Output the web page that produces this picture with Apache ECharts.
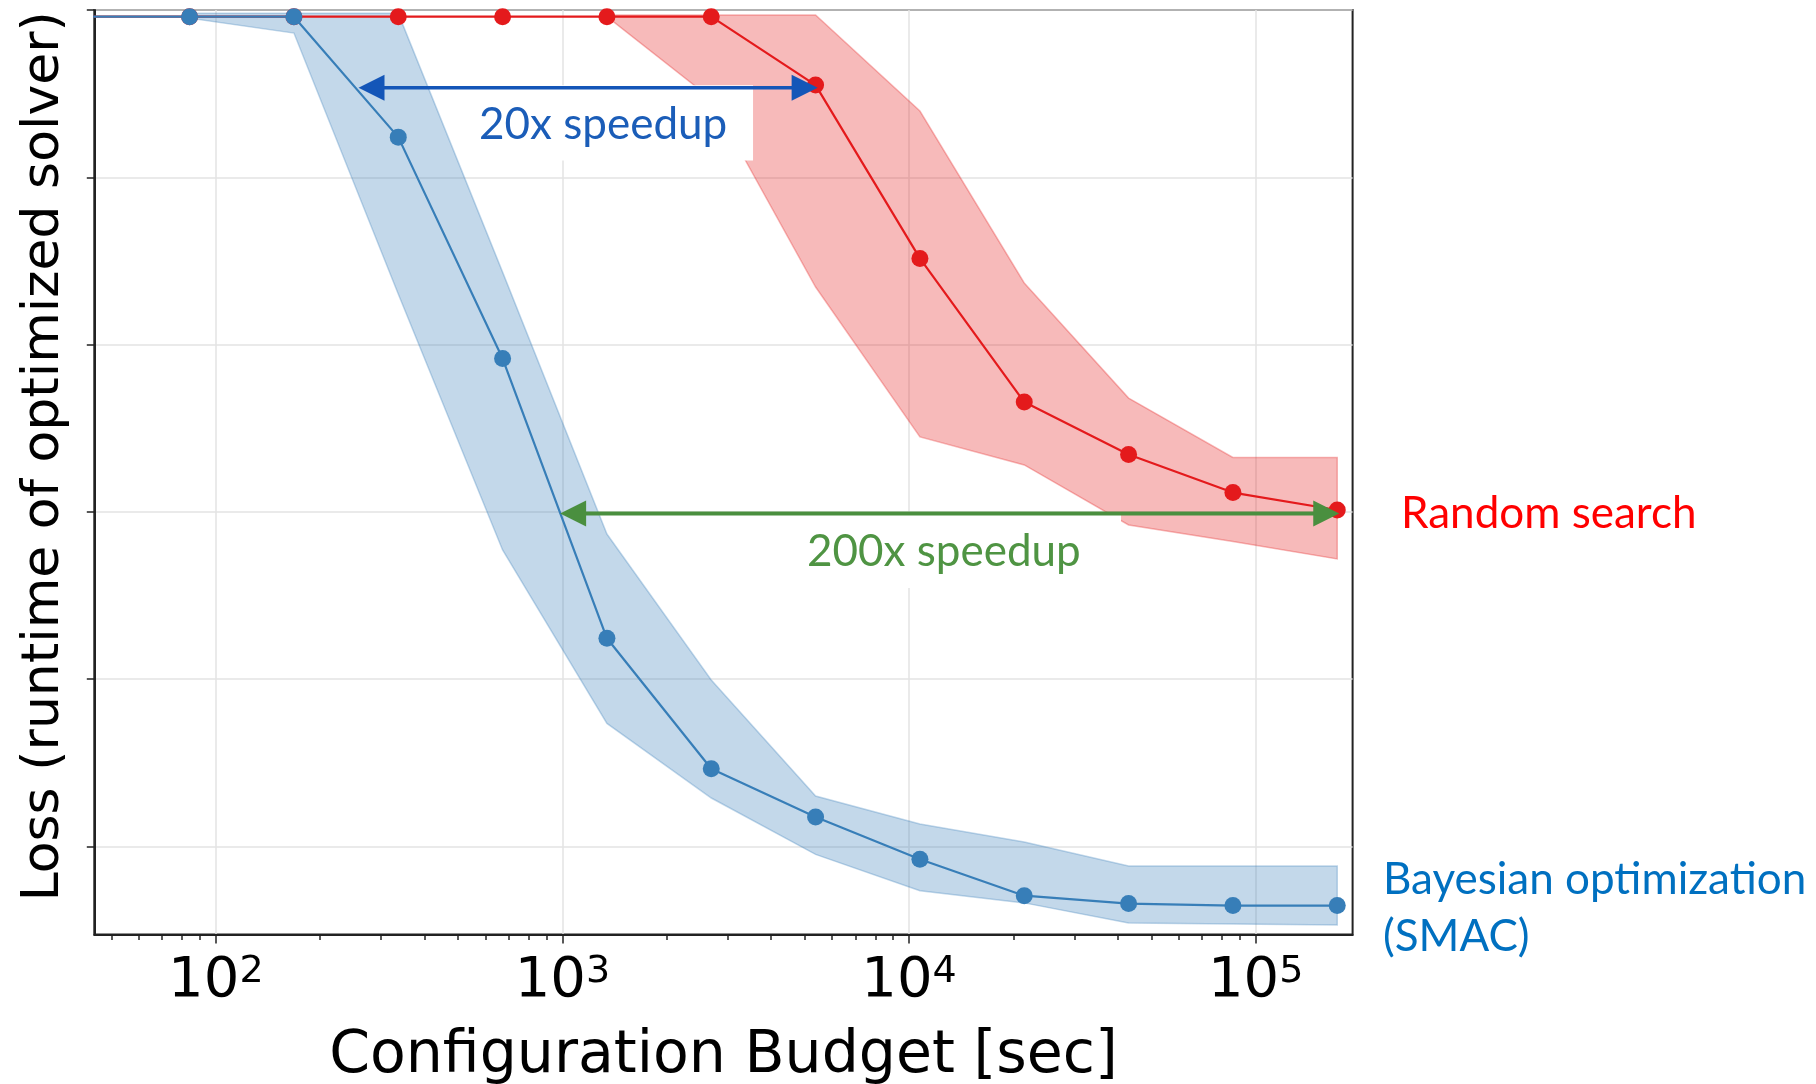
<!DOCTYPE html>
<html><head><meta charset="utf-8">
<script src="https://cdn.jsdelivr.net/npm/echarts@6/dist/echarts.min.js"></script>
<style>html,body{margin:0;padding:0;background:#fff;}#c{width:1816px;height:1084px;}</style>
</head><body><div id="c"></div>
<script>
// ---- data ----
const budget = [42, 84, 168, 336, 672, 1344, 2688, 5376, 10752, 21504, 43008, 86016, 172032];
const smacMean = [4.96, 4.96, 4.96, 4.240, 2.916, 1.244, 0.464, 0.175, -0.077, -0.295, -0.342, -0.354, -0.354];
const smacBandX = [84, 168, 336, 672, 1344, 2688, 5376, 10752, 21504, 43008, 86016, 172032];
const smacUpper = [4.98, 4.98, 4.98, 3.433, 1.867, 0.995, 0.301, 0.134, 0.026, -0.117, -0.117, -0.117];
const smacLower = [4.951, 4.862, 3.302, 1.772, 0.735, 0.289, -0.048, -0.265, -0.338, -0.458, -0.464, -0.470];
const randMean = [4.96, 4.96, 4.96, 4.96, 4.96, 4.96, 4.96, 4.551, 3.515, 2.656, 2.343, 2.115, 2.011];
const randBandX = [1344, 2688, 5376, 10752, 21504, 43008, 86016, 172032];
const randUpper = [4.97, 4.97, 4.97, 4.396, 3.368, 2.680, 2.325, 2.325];
const randLower = [4.96, 4.470, 3.344, 2.448, 2.280, 1.921, 1.822, 1.718];
const xMajorTicks = [100, 1000, 10000, 100000];
const xTickExponents = ['2', '3', '4', '5'];
const xMinorTicks = [50, 60, 70, 80, 90, 200, 300, 400, 500, 600, 700, 800, 900,
  2000, 3000, 4000, 5000, 6000, 7000, 8000, 9000,
  20000, 30000, 40000, 50000, 60000, 70000, 80000, 90000];
const yTicks = [0, 1, 2, 3, 4, 5];
const arrow20X = [258, 5450];
const arrow20Loss = 4.535;
const arrow200X = [985, 174300];
const arrow200Loss = 1.99;
const box20X = [541, 3548], box20Loss = [4.10, 4.55];
const box200X = [2494, 40900], box200Loss = [1.545, 1.99];

const RED = '#e41a1c', BLUE = '#377eb8';
const chart = echarts.init(document.getElementById('c'), null, {renderer: 'canvas'});

function band(xs, lo, hi, color, z) {
  return {
    type: 'custom', z: z, silent: true, animation: false,
    coordinateSystem: 'cartesian2d', xAxisIndex: 0, yAxisIndex: 0,
    data: [[1000, 1]], encode: {x: 0, y: 1},
    renderItem: function (params, api) {
      const pts = [];
      for (let i = 0; i < xs.length; i++) pts.push(api.coord([xs[i], hi[i]]));
      for (let i = xs.length - 1; i >= 0; i--) pts.push(api.coord([xs[i], lo[i]]));
      return {type: 'polygon', shape: {points: pts}, style: {fill: color, stroke: color, lineWidth: 1.5}};
    }
  };
}

const annot = {
  type: 'custom', z: 6, silent: true, animation: false,
  coordinateSystem: 'cartesian2d', xAxisIndex: 0, yAxisIndex: 0,
  data: [[1000, 1]], encode: {x: 0, y: 1},
  renderItem: function (params, api) {
    const ch = [];
    [[box20X, box20Loss], [box200X, box200Loss]].forEach(function (b) {
      const p1 = api.coord([b[0][0], b[1][1]]), p2 = api.coord([b[0][1], b[1][0]]);
      ch.push({type: 'rect', shape: {x: p1[0], y: p1[1], width: p2[0] - p1[0], height: p2[1] - p1[1]}, style: {fill: '#ffffff'}});
    });
    [[arrow20X, arrow20Loss, '#1456b8', 3.5], [arrow200X, arrow200Loss, '#4a8f3f', 4]].forEach(function (a) {
      const L = api.coord([a[0][0], a[1]]), R = api.coord([a[0][1], a[1]]);
      const hl = 26, hw = 13;
      ch.push({type: 'line', shape: {x1: L[0] + hl - 2, y1: L[1], x2: R[0] - hl + 2, y2: R[1]}, style: {stroke: a[2], lineWidth: a[3]}});
      ch.push({type: 'polygon', shape: {points: [[L[0], L[1]], [L[0] + hl, L[1] - hw], [L[0] + hl, L[1] + hw]]}, style: {fill: a[2]}});
      ch.push({type: 'polygon', shape: {points: [[R[0], R[1]], [R[0] - hl, R[1] - hw], [R[0] - hl, R[1] + hw]]}, style: {fill: a[2]}});
    });
    return {type: 'group', children: ch};
  }
};

const tickStyle = {color: '#222', width: 1.5};
const option = {
  animation: false,
  backgroundColor: '#ffffff',
  grid: {left: 94.3, right: 463.4, top: 10, bottom: 149.5, show: true, borderColor: '#222', borderWidth: 2,
    backgroundColor: 'transparent', containLabel: false, outerBoundsMode: 'none'},
  xAxis: [{
    type: 'log', logBase: 10, min: 44.6, max: 190500, position: 'bottom',
    axisLine: {show: true, onZero: false, lineStyle: {color: '#222', width: 2}},
    axisTick: {show: true, customValues: xMajorTicks, length: 9, lineStyle: tickStyle},
    axisLabel: {
      show: true, customValues: xMajorTicks, margin: 19,
      formatter: function (v) {
        let idx = 0, best = Infinity;
        xMajorTicks.forEach(function (t, i) { const d = Math.abs(Math.log10(t) - Math.log10(v)); if (d < best) { best = d; idx = i; } });
        return '{b|10}{s|' + xTickExponents[idx] + '}';
      },
      rich: {
        b: {fontFamily: 'DejaVu Sans', fontSize: 56, lineHeight: 56, verticalAlign: 'bottom', color: '#000'},
        s: {fontFamily: 'DejaVu Sans', fontSize: 38, lineHeight: 24, verticalAlign: 'top', color: '#000'}
      }
    },
    splitLine: {show: true, lineStyle: {color: '#e3e3e3', width: 1.5}},
    minorTick: {show: false},
    name: 'Configuration Budget [sec]', nameLocation: 'middle', nameGap: 93,
    nameTextStyle: {fontFamily: 'DejaVu Sans', fontSize: 58.5, color: '#000'}
  }, {
    type: 'log', logBase: 10, min: 44.6, max: 190500, position: 'bottom',
    axisLine: {show: false, onZero: false},
    axisTick: {show: true, customValues: xMinorTicks, length: 5.5, lineStyle: tickStyle},
    axisLabel: {show: false},
    splitLine: {show: false}
  }],
  yAxis: [{
    type: 'value', min: -0.527, max: 5.0, position: 'left',
    axisLine: {show: true, onZero: false, lineStyle: {color: '#222', width: 2}},
    axisTick: {show: true, customValues: yTicks, length: 7.5, lineStyle: tickStyle},
    axisLabel: {show: false},
    splitLine: {show: true, lineStyle: {color: '#e3e3e3', width: 1.5}},
    name: 'Loss (runtime of optimized solver)', nameLocation: 'middle', nameRotate: 90, nameGap: 24,
    nameTextStyle: {fontFamily: 'DejaVu Sans', fontSize: 52, color: '#000', padding: [0, 0, 0, 32]}
  }],
  series: [
    band(randBandX, randLower, randUpper, 'rgba(228,26,28,0.3)', 1),
    band(smacBandX, smacLower, smacUpper, 'rgba(55,126,184,0.3)', 1),
    {
      type: 'line', name: 'Random search', z: 3, silent: true,
      data: budget.map(function (x, i) { return [x, randMean[i]]; }),
      symbol: 'circle', symbolSize: 17, showSymbol: true,
      lineStyle: {color: RED, width: 2.2}, itemStyle: {color: RED}
    },
    {
      type: 'line', name: 'Bayesian optimization (SMAC)', z: 4, silent: true,
      data: budget.map(function (x, i) { return [x, smacMean[i]]; }),
      symbol: 'circle', symbolSize: 17, showSymbol: true,
      lineStyle: {color: BLUE, width: 2.2}, itemStyle: {color: BLUE}
    },
    annot
  ],
  graphic: [
    {type: 'text', z: 100, x: 479, y: 125, style: {text: '20x speedup', fontFamily: 'Lato', fontSize: 44, fill: '#1b5db8', align: 'left', verticalAlign: 'middle'}},
    {type: 'text', z: 100, x: 807, y: 552, style: {text: '200x speedup', fontFamily: 'Lato', fontSize: 44, fill: '#4f9443', align: 'left', verticalAlign: 'middle'}},
    {type: 'text', z: 100, x: 1401, y: 514, style: {text: 'Random search', fontFamily: 'Lato', fontSize: 44, fill: '#ff0000', align: 'left', verticalAlign: 'middle'}},
    {type: 'text', z: 100, x: 1383, y: 880, style: {text: 'Bayesian optimization', fontFamily: 'Lato', fontSize: 44, fill: '#0070c0', align: 'left', verticalAlign: 'middle'}},
    {type: 'text', z: 100, x: 1383, y: 937, style: {text: '(SMAC)', fontFamily: 'Lato', fontSize: 44, fill: '#0070c0', align: 'left', verticalAlign: 'middle'}}
  ]
};
chart.setOption(option);
</script>
</body></html>
